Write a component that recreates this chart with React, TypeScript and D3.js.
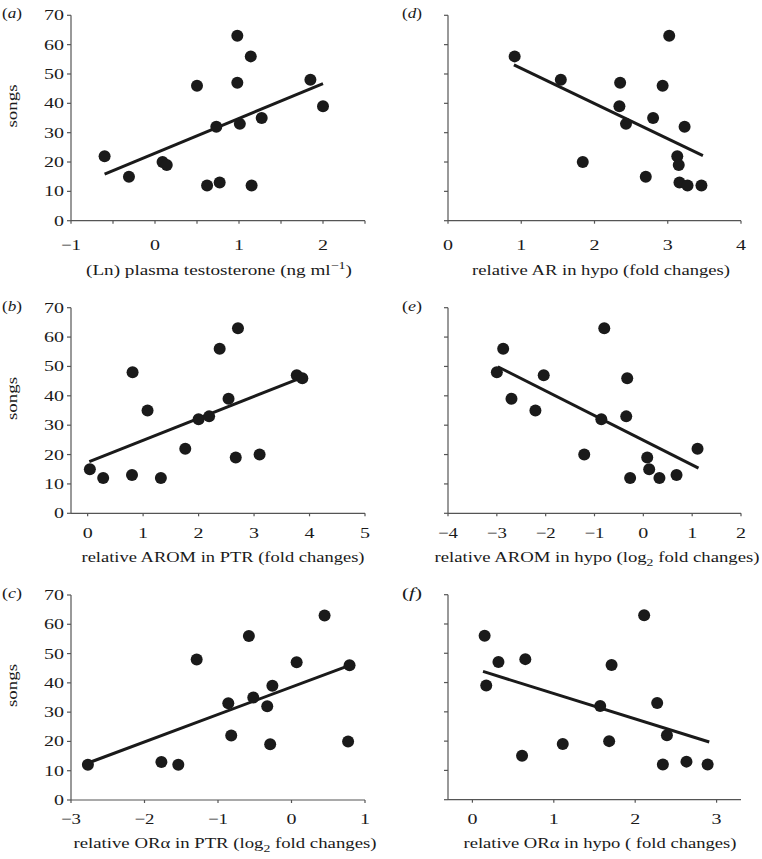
import React from "react";
import * as d3 from "d3";

// ---- data (songs vs. predictor) ----
const aX = [-0.6, -0.31, 0.09, 0.14, 0.5, 0.62, 0.73, 0.77, 0.98, 0.98, 1.01, 1.14, 1.15, 1.27, 1.85, 2.0];
const aY = [22, 15, 20, 19, 46, 12, 32, 13, 63, 47, 33, 56, 12, 35, 48, 39];
const aFit = [[-0.6, 15.9], [2.0, 46.7]];

const dX = [0.91, 1.54, 1.84, 2.35, 2.34, 2.43, 2.7, 2.8, 2.93, 3.02, 3.13, 3.15, 3.23, 3.16, 3.27, 3.46];
const dY = [56, 48, 20, 47, 39, 33, 15, 35, 46, 63, 22, 19, 32, 13, 12, 12];
const dFit = [[0.9, 53.1], [3.48, 22.2]];

const bX = [0.04, 0.28, 0.81, 0.8, 1.08, 1.32, 1.76, 2.0, 2.19, 2.38, 2.54, 2.71, 2.67, 3.1, 3.77, 3.87];
const bY = [15, 12, 48, 13, 35, 12, 22, 32, 33, 56, 39, 63, 19, 20, 47, 46];
const bFit = [[0.03, 17.6], [3.79, 45.7]];

const eX = [-3.0, -2.87, -2.7, -2.21, -2.04, -1.21, -0.86, -0.8, -0.33, -0.35, -0.27, 0.08, 0.12, 0.33, 0.68, 1.11];
const eY = [48, 56, 39, 35, 47, 20, 32, 63, 46, 33, 12, 19, 15, 12, 13, 22];
const eFit = [[-2.98, 49.9], [1.13, 15.4]];

const cX = [-2.77, -1.77, -1.54, -1.29, -0.86, -0.82, -0.58, -0.52, -0.33, -0.29, -0.26, 0.07, 0.45, 0.79, 0.77];
const cY = [12, 13, 12, 48, 33, 22, 56, 35, 32, 19, 39, 47, 63, 46, 20];
const cFit = [[-2.75, 12.8], [0.79, 46.0]];

const fX = [0.15, 0.17, 0.32, 0.65, 0.61, 1.11, 1.57, 1.71, 1.68, 2.11, 2.27, 2.39, 2.34, 2.63, 2.89];
const fY = [56, 39, 47, 48, 15, 19, 32, 46, 20, 63, 33, 22, 12, 13, 12];
const fFit = [[0.13, 43.8], [2.91, 19.7]];

const yTicks = [0, 10, 20, 30, 40, 50, 60, 70];

const FONT = "'Liberation Serif', 'Times New Roman', Times, serif";
const AXIS = "#555";
const INK = "#1a1a1a";

type Panel = {
  label: string;
  xs: number[];
  ys: number[];
  fit: number[][];
  domain: [number, number];
  ticks: number[];
  labelTicks: number[];
  px: [number, number];
  py: [number, number];
  yLabels: boolean;
  title: React.ReactNode;
  titleX: number;
  titleLen: number;
  tickOff: number;
  titleOff: number;
};

const fmt = (v: number) => (v < 0 ? "\u2212" + Math.abs(v) : String(v));

const panels: Panel[] = [
  {
    label: "a", xs: aX, ys: aY, fit: aFit, domain: [-1, 2.5],
    ticks: [-1, -0.5, 0, 0.5, 1, 1.5, 2, 2.5], labelTicks: [-1, 0, 1, 2],
    px: [71, 365], py: [15.3, 220.7], yLabels: true, tickOff: 29, titleOff: 54,
    titleX: 219, titleLen: 266,
    title: (<>(Ln) plasma testosterone (ng ml<tspan dy={-6} fontSize={11}>{"\u22121"}</tspan><tspan dy={6}>)</tspan></>),
  },
  {
    label: "d", xs: dX, ys: dY, fit: dFit, domain: [0, 4],
    ticks: [0, 1, 2, 3, 4], labelTicks: [0, 1, 2, 3, 4],
    px: [448, 741], py: [15.3, 220.7], yLabels: false, tickOff: 29, titleOff: 54,
    titleX: 601, titleLen: 258,
    title: "relative AR in hypo (fold changes)",
  },
  {
    label: "b", xs: bX, ys: bY, fit: bFit, domain: [-0.3, 5],
    ticks: [0, 1, 2, 3, 4, 5], labelTicks: [0, 1, 2, 3, 4, 5],
    px: [71, 365], py: [307.7, 513.3], yLabels: true, tickOff: 25, titleOff: 49,
    titleX: 223, titleLen: 283,
    title: "relative AROM in PTR (fold changes)",
  },
  {
    label: "e", xs: eX, ys: eY, fit: eFit, domain: [-4, 2],
    ticks: [-4, -3, -2, -1, 0, 1, 2], labelTicks: [-4, -3, -2, -1, 0, 1, 2],
    px: [448, 741], py: [307.7, 513.3], yLabels: false, tickOff: 25, titleOff: 49,
    titleX: 597, titleLen: 325,
    title: (<>relative AROM in hypo (log<tspan dy={4} fontSize={11}>2</tspan><tspan dy={-4}> fold changes)</tspan></>),
  },
  {
    label: "c", xs: cX, ys: cY, fit: cFit, domain: [-3, 1],
    ticks: [-3, -2, -1, 0, 1], labelTicks: [-3, -2, -1, 0, 1],
    px: [71, 365], py: [595, 800], yLabels: true, tickOff: 24, titleOff: 48,
    titleX: 225, titleLen: 303,
    title: (<>relative OR{"\u03b1"} in PTR (log<tspan dy={4} fontSize={11}>2</tspan><tspan dy={-4}> fold changes)</tspan></>),
  },
  {
    label: "f", xs: fX, ys: fY, fit: fFit, domain: [-0.3, 3.3],
    ticks: [0, 1, 2, 3], labelTicks: [0, 1, 2, 3],
    px: [448, 741], py: [594.7, 799.7], yLabels: false, tickOff: 24, titleOff: 48,
    titleX: 600, titleLen: 273,
    title: "relative OR\u03b1 in hypo ( fold changes)",
  },
];

function T({ x, y, anchor, size, rotate, children, len }: any) {
  return (
    <text
      transform={`translate(${x},${y})${rotate ? " rotate(-90)" : ""}`}
      textAnchor={anchor || "start"}
      fontSize={size}
      fill={INK}
      fontFamily={FONT}
      textLength={len}
      lengthAdjust={len ? "spacingAndGlyphs" : undefined}
    >
      {children}
    </text>
  );
}

function PanelView({ p }: { p: Panel }) {
  const x = d3.scaleLinear().domain(p.domain).range(p.px);
  const y = d3.scaleLinear().domain([0, 70]).range([p.py[1], p.py[0]]);
  const line = d3.line<number[]>().x((d) => x(d[0])).y((d) => y(d[1]));
  const x0 = p.px[0];
  const y0 = p.py[1];
  const labelX = p.yLabels ? 2 : x0 - 46;
  return (
    <g>
      <T x={labelX} y={p.py[0] + 3} size={15} len={20}>
        (<tspan fontStyle="italic">{p.label}</tspan>)
      </T>
      {/* axes */}
      <line x1={x0} x2={x0} y1={p.py[0]} y2={y0} stroke={AXIS} strokeWidth={1.2} />
      <line x1={x0} x2={p.px[1]} y1={y0} y2={y0} stroke={AXIS} strokeWidth={1.2} />
      {yTicks.map((t) => (
        <g key={"y" + t}>
          <line x1={x0 - 4} x2={x0} y1={y(t)} y2={y(t)} stroke={AXIS} strokeWidth={1.2} />
          {p.yLabels && (
            <T x={x0 - 7} y={y(t) + 5} anchor="end" size={15} len={String(t).length * 10}>
              {t}
            </T>
          )}
        </g>
      ))}
      {p.ticks.map((t) => (
        <line key={"x" + t} x1={x(t)} x2={x(t)} y1={y0} y2={y0 + 3} stroke={AXIS} strokeWidth={1.2} />
      ))}
      {p.labelTicks.map((t) => (
        <T key={"xl" + t} x={x(t)} y={y0 + p.tickOff} anchor="middle" size={15} len={fmt(t).length * 10}>
          {fmt(t)}
        </T>
      ))}
      <T x={p.titleX} y={y0 + p.titleOff} anchor="middle" size={15} len={p.titleLen}>
        {p.title}
      </T>
      {p.yLabels && (
        <T x={17} y={(p.py[0] + p.py[1]) / 2 - 12} anchor="middle" size={15.5} rotate len={43}>
          songs
        </T>
      )}
      <path d={line(p.fit) || ""} stroke={INK} strokeWidth={3} fill="none" />
      {p.xs.map((v, i) => (
        <circle key={i} cx={x(v)} cy={y(p.ys[i])} r={6} fill={INK} />
      ))}
    </g>
  );
}

export default function App() {
  return (
    <svg
      width={762}
      height={859}
      style={{ position: "absolute", left: 0, top: 0, background: "#fff" }}
    >
      <rect width={762} height={859} fill="#fff" />
      {panels.map((p) => (
        <PanelView key={p.label} p={p} />
      ))}
    </svg>
  );
}
